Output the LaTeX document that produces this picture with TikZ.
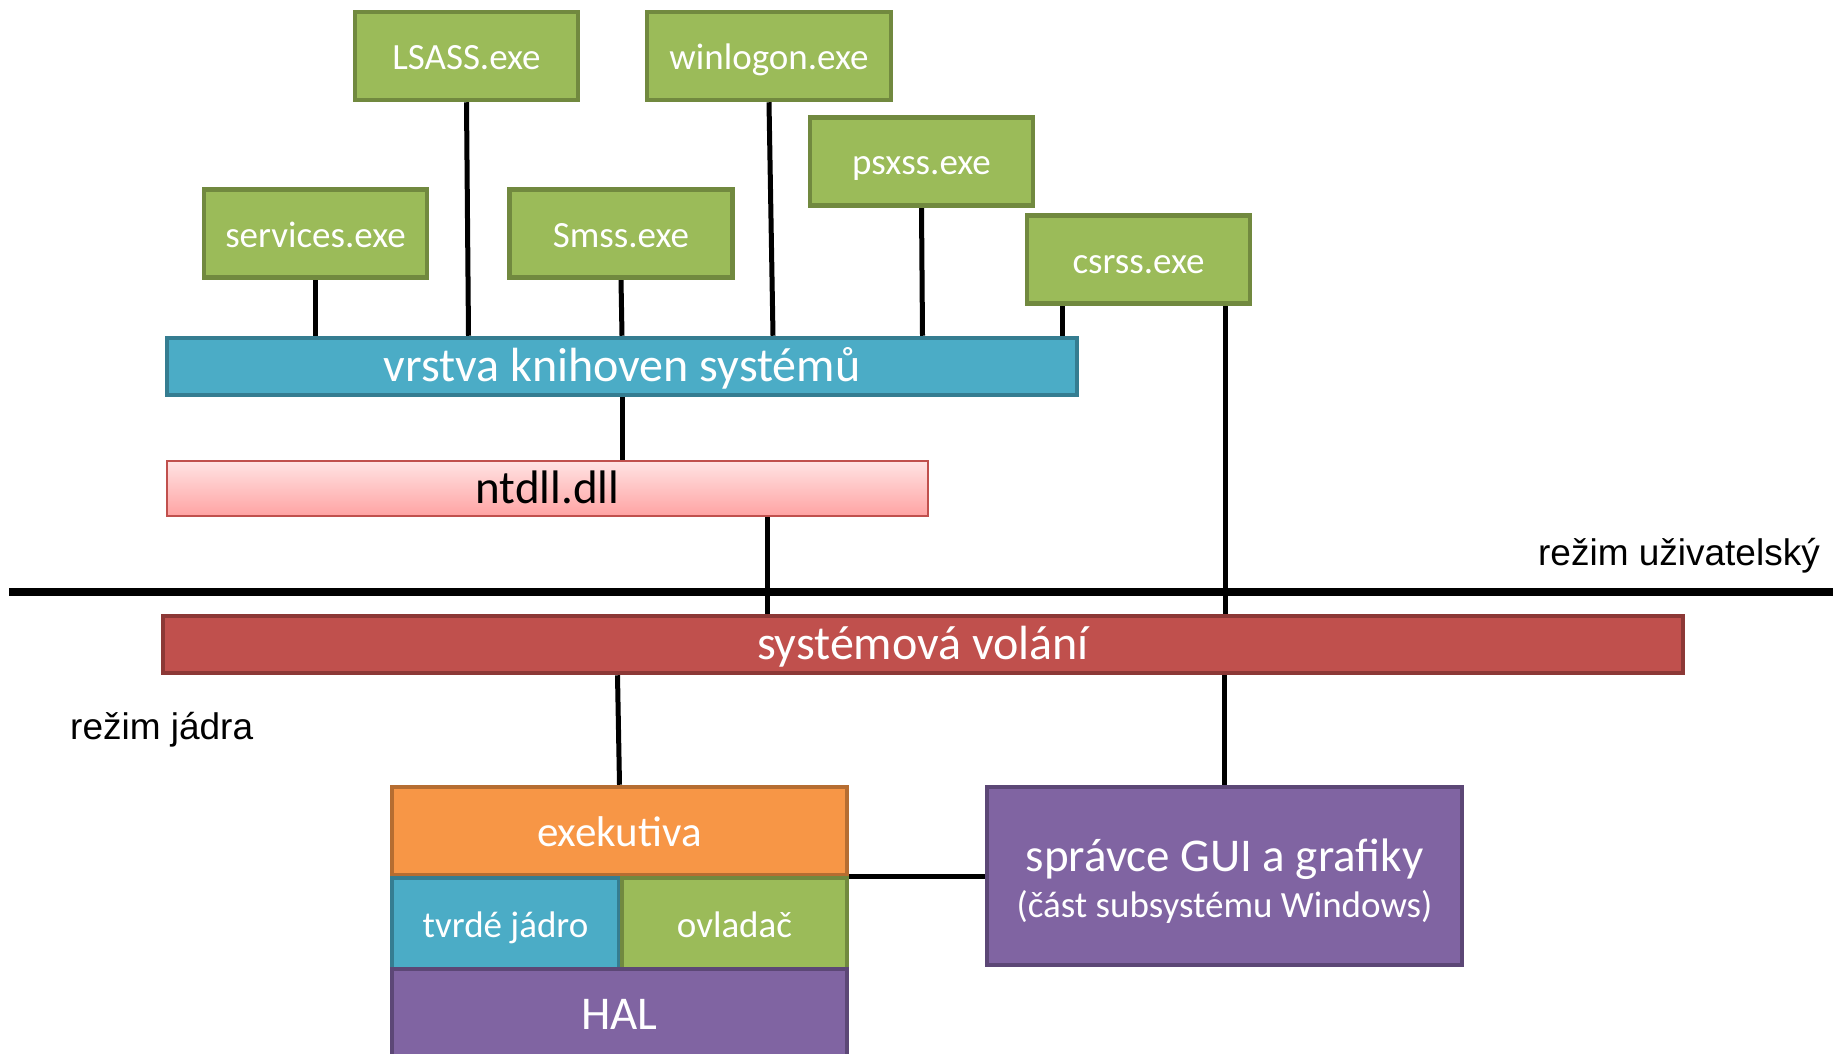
\documentclass[tikz,border=0pt]{standalone}
\usepackage{fontspec}
\setmainfont{Carlito}
\newfontfamily\arialfont{Liberation Sans}
\usetikzlibrary{backgrounds,calc}

\definecolor{procgreen}{HTML}{9BBB59}
\definecolor{procgreenline}{HTML}{71893F}
\definecolor{libblue}{HTML}{4BACC6}
\definecolor{libblueline}{HTML}{357D91}
\definecolor{callred}{HTML}{C0504D}
\definecolor{callredline}{HTML}{8C3836}
\definecolor{dlltop}{HTML}{FFE3E3}
\definecolor{dllbottom}{HTML}{FFA3A3}
\definecolor{exorange}{HTML}{F79646}
\definecolor{exorangeline}{HTML}{B66D31}
\definecolor{halpurple}{HTML}{8064A2}
\definecolor{halpurpleline}{HTML}{5C4776}

\tikzset{
  box/.style={rectangle, inner sep=0pt, line width=4.5pt, text=white, smalltext},
  smalltext/.style={font=\fontsize{37}{44}\selectfont, text height=29pt, text depth=2pt},
  bigtext/.style={font=\fontsize{48}{57}\selectfont, text height=35pt, text depth=6pt},
  procbox/.style={box, fill=procgreen, draw=procgreenline,
    minimum width=223pt, minimum height=88pt},
  link/.style={line width=5pt, black},
  modelabel/.style={font=\arialfont\fontsize{37}{44}\selectfont, inner sep=0pt}
}

\begin{document}
\begin{tikzpicture}[x=1pt,y=-1pt]
    \clip (0,0) rectangle (1839,1054);
    \useasboundingbox (0,0) rectangle (1839,1054);

    % User mode processes
    \node[procbox] (lsass) at (466.5,56) {LSASS.exe};
    \node[procbox, minimum width=244pt] (winlogon) at (769,56) {winlogon.exe};
    \node[procbox] (psxss) at (921.5,161.5) {psxss.exe};
    \node[procbox] (services) at (315.5,233.5) {services.exe};
    \node[procbox] (smss) at (621,233.5) {Smss.exe};
    \node[procbox] (csrss) at (1138.5,259.5) {csrss.exe};

    % Libraries
    \node[box, bigtext, fill=libblue, draw=libblueline,
      minimum width=910pt, minimum height=57pt] (vrstva) at (622,366.5) {vrstva knihoven systémů};
    \node[box, bigtext, font=\fontsize{47}{56}\selectfont, text=black, top color=dlltop,
      bottom color=dllbottom, draw=callred, line width=2pt,
      minimum width=761pt, minimum height=55pt] (ntdll) at (547.5,488.5) {ntdll.dll};

    % Mode boundary
    \coordinate (bleft) at (9,592);
    \coordinate (bright) at (1833,592);
    \draw[line width=7.5pt] (bleft) -- (bright);
    \node[modelabel, anchor=east] (usermode) at (1820,556) {režim uživatelský};
    \node[modelabel, anchor=west] (kernelmode) at (70,730) {režim jádra};

    % Kernel mode
    \node[box, bigtext, fill=callred, draw=callredline,
      minimum width=1520pt, minimum height=57pt] (sysvol) at (923,644.5) {systémová volání};
    \node[box, font=\fontsize{43}{52}\selectfont, text height=33pt, text depth=3pt,
      fill=exorange, draw=exorangeline,
      minimum width=455pt, minimum height=88pt] (exek) at (619.5,831) {exekutiva};
    \node[box, fill=libblue, draw=libblueline,
      minimum width=227pt, minimum height=91pt] (tvrde) at (505.5,923.5) {tvrdé jádro};
    \node[box, fill=procgreen, draw=procgreenline,
      minimum width=225pt, minimum height=91pt] (ovladac) at (734.5,923.5) {ovladač};
    \node[box, bigtext, font=\fontsize{47}{56}\selectfont, fill=halpurple, draw=halpurpleline,
      minimum width=455pt, minimum height=92pt] (hal) at (619.5,1015) {HAL};
    \node[box, fill=halpurple, draw=halpurpleline, align=center,
      text height=, text depth=,
      minimum width=475pt, minimum height=178pt] (spravce) at (1224.5,876) {};
    \node[font=\fontsize{37}{44}\selectfont, text=white, align=center, inner sep=0pt]
      (spravcetext) at ([yshift=-5pt]spravce.center)
      {{\fontsize{47}{56}\selectfont správce GUI a grafiky}\\[2pt](část subsystému Windows)};

    % Connectors
    \begin{scope}[on background layer]
      \draw[link] (services.south) -- (services.south |- vrstva.north);
      \draw[link] (lsass.south) -- ([xshift=2pt]lsass.south |- vrstva.north);
      \draw[link] (smss.south) -- ([xshift=1pt]smss.south |- vrstva.north);
      \draw[link] (winlogon.south) -- ([xshift=4pt]winlogon.south |- vrstva.north);
      \draw[link] (psxss.south) -- ([xshift=1pt]psxss.south |- vrstva.north);
      \draw[link] ([xshift=38pt]csrss.south west) -- ([xshift=38pt]csrss.south west |- vrstva.north);
      \draw[link] (vrstva.south) -- (vrstva.south |- ntdll.north);
      \draw[link] ([xshift=220pt]ntdll.south) -- ([xshift=220pt]ntdll.south |- sysvol.north);
      \draw[link] ([xshift=-27pt]csrss.south east) -- ([xshift=-27pt]csrss.south east |- sysvol.north);
      \draw[link] ([xshift=-2pt]exek.north |- sysvol.south) -- (exek.north);
      \draw[link] (spravce.north |- sysvol.south) -- (spravce.north);
      \draw[link] (spravce.west) -- (spravce.west -| exek.east);
    \end{scope}
\end{tikzpicture}
\end{document}
